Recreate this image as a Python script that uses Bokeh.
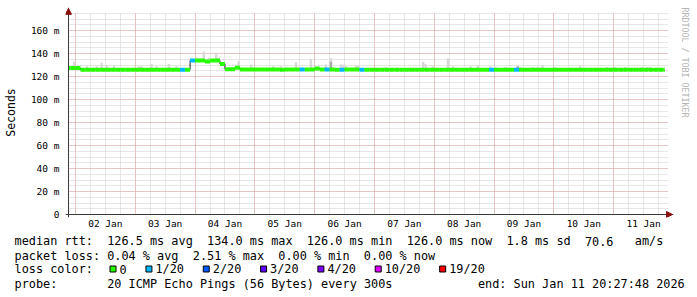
import re
import numpy as np
import pandas as pd
from bokeh.plotting import figure
from bokeh.layouts import column
from bokeh.models import (Range1d, FixedTicker, DatetimeTickFormatter, Grid, Label,
                          Arrow, NormalHead, ColumnDataSource, Title, Span)
from bokeh.embed import file_html
from bokeh.resources import INLINE

# ---------------- data ----------------
BIN_START = "2026-01-01 20:00:00"     # first 2-hour bin
END_TIME = "2026-01-11 20:27:48"
BIN_HOURS = 2

# median RTT (ms) per 2-hour bin
median_ms = [
    127.5, 127.5, 127.5, 126.1, 126.1, 126.1, 126.1, 126.1, 126.1, 126.1,
    126.1, 126.1, 126.1, 126.1, 126.1, 126.1, 126.1, 126.1, 126.1, 126.1,
    126.1, 126.1, 126.1, 126.1, 126.1, 134.0, 134.0, 134.0, 133.3, 134.0,
    134.0, 131.0, 126.4, 126.4, 127.8, 126.3, 126.3, 126.3, 126.3, 126.3,
    126.3, 126.3, 126.3, 126.0, 126.3, 126.3, 126.3, 126.3, 126.3, 126.3,
    127.0, 126.3, 126.3, 126.3, 126.0, 126.0, 126.2, 126.2, 126.2, 126.0,
    126.1, 126.1, 126.1, 126.1, 126.1, 126.1, 126.1, 126.1, 126.1, 126.1,
    126.1, 126.1, 126.1, 126.1, 126.1, 126.1, 126.1, 126.1, 126.1, 126.1,
    126.1, 126.1, 126.1, 126.1, 126.1, 126.1, 126.0, 126.0, 126.0, 126.0,
    126.0, 126.0, 126.0, 126.0, 126.0, 126.0, 126.0, 126.0, 126.0, 126.0,
    126.0, 126.0, 126.0, 126.0, 126.0, 126.0, 126.0, 126.0, 126.0, 126.0,
    126.0, 126.0, 126.0, 126.0, 126.0, 126.0, 126.0, 126.0, 126.0, 126.0,
    126.0,
]
# bins with lost pings (index, pings lost out of 20)
loss_bins = [23, 25, 47, 52, 55, 59, 85, 90]
loss_pings = [1, 1, 1, 1, 1, 1, 1, 1]

# smoke (spread of the 20 pings): hour offset from BIN_START, max RTT (ms)
smoke_hours = [3, 8, 12, 14, 16, 19, 29, 30, 34, 36, 41, 44, 50, 52, 53, 55, 57,
               60, 61, 69, 74, 83, 86, 92, 98, 104, 106, 110, 111, 112, 116, 117,
               128, 143, 144, 147, 153, 155, 162, 165, 170, 172, 176, 181, 182,
               187, 189, 191, 196, 206, 217, 220, 224, 231, 233, 234]
smoke_max = [133.0, 129.0, 129.0, 132.0, 130.0, 130.0, 129.0, 129.0, 131.0, 129.0,
             131.0, 129.0, 136.0, 137.0, 136.0, 142.0, 136.5, 141.0, 136.5, 133.5,
             130.6, 129.0, 129.0, 132.6, 135.5, 130.5, 136.0, 130.6, 130.6, 129.0,
             129.5, 129.5, 128.5, 133.0, 131.0, 129.0, 136.0, 129.0, 129.0, 130.0,
             129.0, 128.5, 128.5, 129.0, 128.5, 128.5, 128.5, 130.0, 128.5, 129.0,
             128.5, 128.5, 128.5, 128.5, 128.5, 128.5]
# denser inner part of the smoke
smoke_dark_hours = [106, 181]
smoke_dark_max = [133.0, 129.0]

loss_levels = [0, 1, 2, 3, 4, 10, 19]
loss_labels = ["0", "1/20", "2/20", "3/20", "4/20", "10/20", "19/20"]
loss_colors = ["#26ff00", "#00b8ff", "#0059ff", "#5e00ff", "#7e00ff", "#dd00ff", "#ff0000"]

y_ticks = [0, 20, 40, 60, 80, 100, 120, 140, 160]
y_tick_labels = ["0", "20 m", "40 m", "60 m", "80 m", "100 m", "120 m", "140 m", "160 m"]

legend_rtt = "median rtt:  126.5 ms avg  134.0 ms max  126.0 ms min  126.0 ms now  1.8 ms sd  70.6   am/s"
legend_loss = "packet loss: 0.04 % avg  2.51 % max  0.00 % min  0.00 % now"
legend_color_title = "loss color:"
legend_probe = "probe:       20 ICMP Echo Pings (56 Bytes) every 300s"
legend_end = "end: Sun Jan 11 20:27:48 2026"
watermark = "RRDTOOL / TOBI OETIKER"

# ---------------- derived ----------------
FONT = "DejaVu Sans Mono"
PX_MIN = 24                      # minutes per pixel along x
PX_MS = 202 / 175                # pixels per ms along y
X_START = pd.Timestamp("2026-01-01 21:12:00")          # time at the y axis
X_FRAME_START = X_START - pd.Timedelta(minutes=PX_MIN * 3)
X_AXIS_END = X_START + pd.Timedelta(minutes=PX_MIN * 601)
X_END = X_START + pd.Timedelta(minutes=PX_MIN * 607)
Y_GRID_TOP = 175
Y_MAX = Y_GRID_TOP + 6 / PX_MS
Y_MIN = -3 / PX_MS

t0 = pd.Timestamp(BIN_START)
t_end = pd.Timestamp(END_TIME)
n = len(median_ms)
starts = [max(t0 + pd.Timedelta(hours=BIN_HOURS * i), X_START) for i in range(n)]
ends = [min(t0 + pd.Timedelta(hours=BIN_HOURS * (i + 1)), t_end) for i in range(n)]

loss = [0] * n
for b, c in zip(loss_bins, loss_pings):
    loss[b] = c

def loss_color(c):
    col = loss_colors[0]
    for lv, cl in zip(loss_levels, loss_colors):
        if c >= lv:
            col = cl
    return col

seg_src = ColumnDataSource(dict(x0=starts, x1=ends, y=median_ms,
                                color=[loss_color(c) for c in loss]))

def smoke_source(hours, tops):
    l = [max(t0 + pd.Timedelta(hours=h), X_START) for h in hours]
    r = [t0 + pd.Timedelta(hours=h + 1) for h in hours]
    b = [median_ms[h // BIN_HOURS] for h in hours]
    return ColumnDataSource(dict(left=l, right=r, bottom=b, top=tops))

def ms(t):
    return t.value / 1e6

MAIN_H = 231
p = figure(width=697, height=MAIN_H, output_backend="svg", toolbar_location=None,
           x_axis_type="datetime",
           x_range=Range1d(X_FRAME_START, X_END), y_range=Range1d(Y_MIN, Y_MAX),
           min_border_left=64, min_border_right=23, min_border_top=7,
           min_border_bottom=MAIN_H - 218)
p.frame_align = False
p.outline_line_color = None
p.background_fill_color = "white"
p.border_fill_color = "white"
p.xgrid.visible = False
p.ygrid.visible = False

# grids
day0 = pd.Timestamp("2026-01-01")
six_h = [ms(day0 + pd.Timedelta(hours=6 * k)) for k in range(0, 46)]
midn = [ms(day0 + pd.Timedelta(days=k)) for k in range(1, 12)]
noon = [ms(day0 + pd.Timedelta(days=k, hours=12)) for k in range(1, 11)]
y_minor = list(range(0, Y_GRID_TOP + 1, 5))
xb = (ms(X_START), ms(X_AXIS_END))
yb = (0, Y_GRID_TOP)

minor_col = "#cfcfcf"
major_col = "#e9a3a3"
p.add_layout(Grid(dimension=0, ticker=FixedTicker(ticks=six_h), cross_bounds=yb,
                  grid_line_color=minor_col, grid_line_dash="1 1"))
p.add_layout(Grid(dimension=1, ticker=FixedTicker(ticks=y_minor[1:]), cross_bounds=xb,
                  grid_line_color=minor_col, grid_line_dash="1 1"))
p.add_layout(Grid(dimension=0, ticker=FixedTicker(ticks=midn), cross_bounds=yb,
                  grid_line_color=major_col, grid_line_dash="1 1"))
p.add_layout(Grid(dimension=1, ticker=FixedTicker(ticks=y_ticks[1:]), cross_bounds=xb,
                  grid_line_color=major_col, grid_line_dash="1 1"))

# axes (lines drawn as spans at y=0 / start time, labels from Bokeh axes)
axis_col = "#3a3a3a"
yax = p.yaxis[0]
yax.ticker = FixedTicker(ticks=y_ticks)
yax.major_label_overrides = {v: s for v, s in zip(y_ticks, y_tick_labels)}
yax.axis_label = "Seconds"
yax.axis_label_text_font = FONT
yax.axis_label_text_font_size = "11.5px"
yax.axis_label_text_font_style = "normal"
yax.axis_label_text_color = "#000000"
yax.axis_label_standoff = 10
yax.major_label_text_font = FONT
yax.major_label_text_font_size = "9.5px"
yax.major_label_text_color = "#000000"
yax.major_label_standoff = 6
yax.major_tick_out = 0
yax.major_tick_in = 0
yax.minor_tick_line_color = None
yax.axis_line_color = None

xax = p.xaxis[0]
xax.ticker = FixedTicker(ticks=noon)
xax.formatter = DatetimeTickFormatter(days="%d %b", hours="%d %b", months="%d %b",
                                      minutes="%d %b", context=None)
xax.major_label_text_font = FONT
xax.major_label_text_font_size = "9.5px"
xax.major_label_text_color = "#000000"
xax.major_label_standoff = 0
xax.major_tick_out = 0
xax.major_tick_in = 0
xax.minor_tick_line_color = None
xax.axis_line_color = None

# smoke
p.quad(left="left", right="right", bottom="bottom", top="top",
       source=smoke_source(smoke_hours, smoke_max),
       fill_color="#d9d9d9", line_color=None)
p.quad(left="left", right="right", bottom="bottom", top="top",
       source=smoke_source(smoke_dark_hours, smoke_dark_max),
       fill_color="#ababab", line_color=None)

# thin median line (shows the vertical steps) + loss-coloured median band
p.step(x=starts + [t_end], y=median_ms + [median_ms[-1]], mode="after",
       line_color="#202020", line_width=1)
p.segment(x0="x0", y0="y", x1="x1", y1="y", source=seg_src,
          line_color="color", line_width=4, line_cap="butt")

# axis lines
p.add_layout(Span(location=ms(X_START), dimension="height", line_color=axis_col, line_width=1))
p.add_layout(Span(location=0, dimension="width", line_color=axis_col, line_width=1))

# axis arrows
arrow_col = "#8b1010"
p.add_layout(Arrow(end=NormalHead(size=6, fill_color=arrow_col, line_color=arrow_col),
                   x_start=ms(X_START), y_start=Y_GRID_TOP, x_end=ms(X_START),
                   y_end=Y_GRID_TOP + 4.5, line_color=None))
p.add_layout(Arrow(end=NormalHead(size=6, fill_color=arrow_col, line_color=arrow_col),
                   x_start=ms(X_AXIS_END), y_start=0,
                   x_end=ms(X_AXIS_END) + 2 * 3600e3, y_end=0, line_color=None))

# watermark on the right side
p.add_layout(Title(text=watermark, align="left", text_font=FONT, text_font_size="8.3px",
                   text_font_style="normal", text_color="#b4b4b4", standoff=12, offset=0),
             "right")

# ---------------- legend block (second figure below) ----------------
LEG_H = 297 - MAIN_H
leg = figure(width=697, height=LEG_H, output_backend="svg", toolbar_location=None,
             x_range=Range1d(0, 697), y_range=Range1d(LEG_H, 0),
             x_axis_location=None, y_axis_location=None, min_border=0)
leg.frame_align = False
leg.outline_line_color = None
leg.xgrid.visible = False
leg.ygrid.visible = False
leg.background_fill_color = "white"
leg.border_fill_color = "white"

CW = 7.13
X0 = 14.0
FS = "11.85px"
def add_line(text, y, col0=0):
    for m in re.finditer(r"\S+(?: \S+)*", text):
        leg.add_layout(Label(x=X0 + (col0 + m.start()) * CW, y=y - MAIN_H,
                             text=m.group(), text_font=FONT,
                             text_font_size=FS, text_color="#000000",
                             text_align="left", text_baseline="middle"))

add_line(legend_rtt, 240.7)
add_line(legend_loss, 255.0)
add_line(legend_color_title, 268.7)
add_line(legend_probe, 283.3)
add_line(legend_end, 283.3, col0=65)

bx = 109.5
sw_l, sw_r, sw_c = [], [], []
for lab, col in zip(loss_labels, loss_colors):
    sw_l.append(bx)
    sw_r.append(bx + 6)
    sw_c.append(col)
    leg.add_layout(Label(x=bx + 9.5, y=268.7 - MAIN_H, text=lab,
                         text_font=FONT, text_font_size=FS, text_color="#000000",
                         text_align="left", text_baseline="middle"))
    bx += 9.5 + len(lab) * CW + 19.3
leg.quad(left=sw_l, right=sw_r, top=265.5 - MAIN_H, bottom=271.5 - MAIN_H,
         fill_color=sw_c, line_color="#000000", line_width=1)

layout = column(p, leg, spacing=0)
open("out.html", "w").write(file_html(layout, INLINE))
